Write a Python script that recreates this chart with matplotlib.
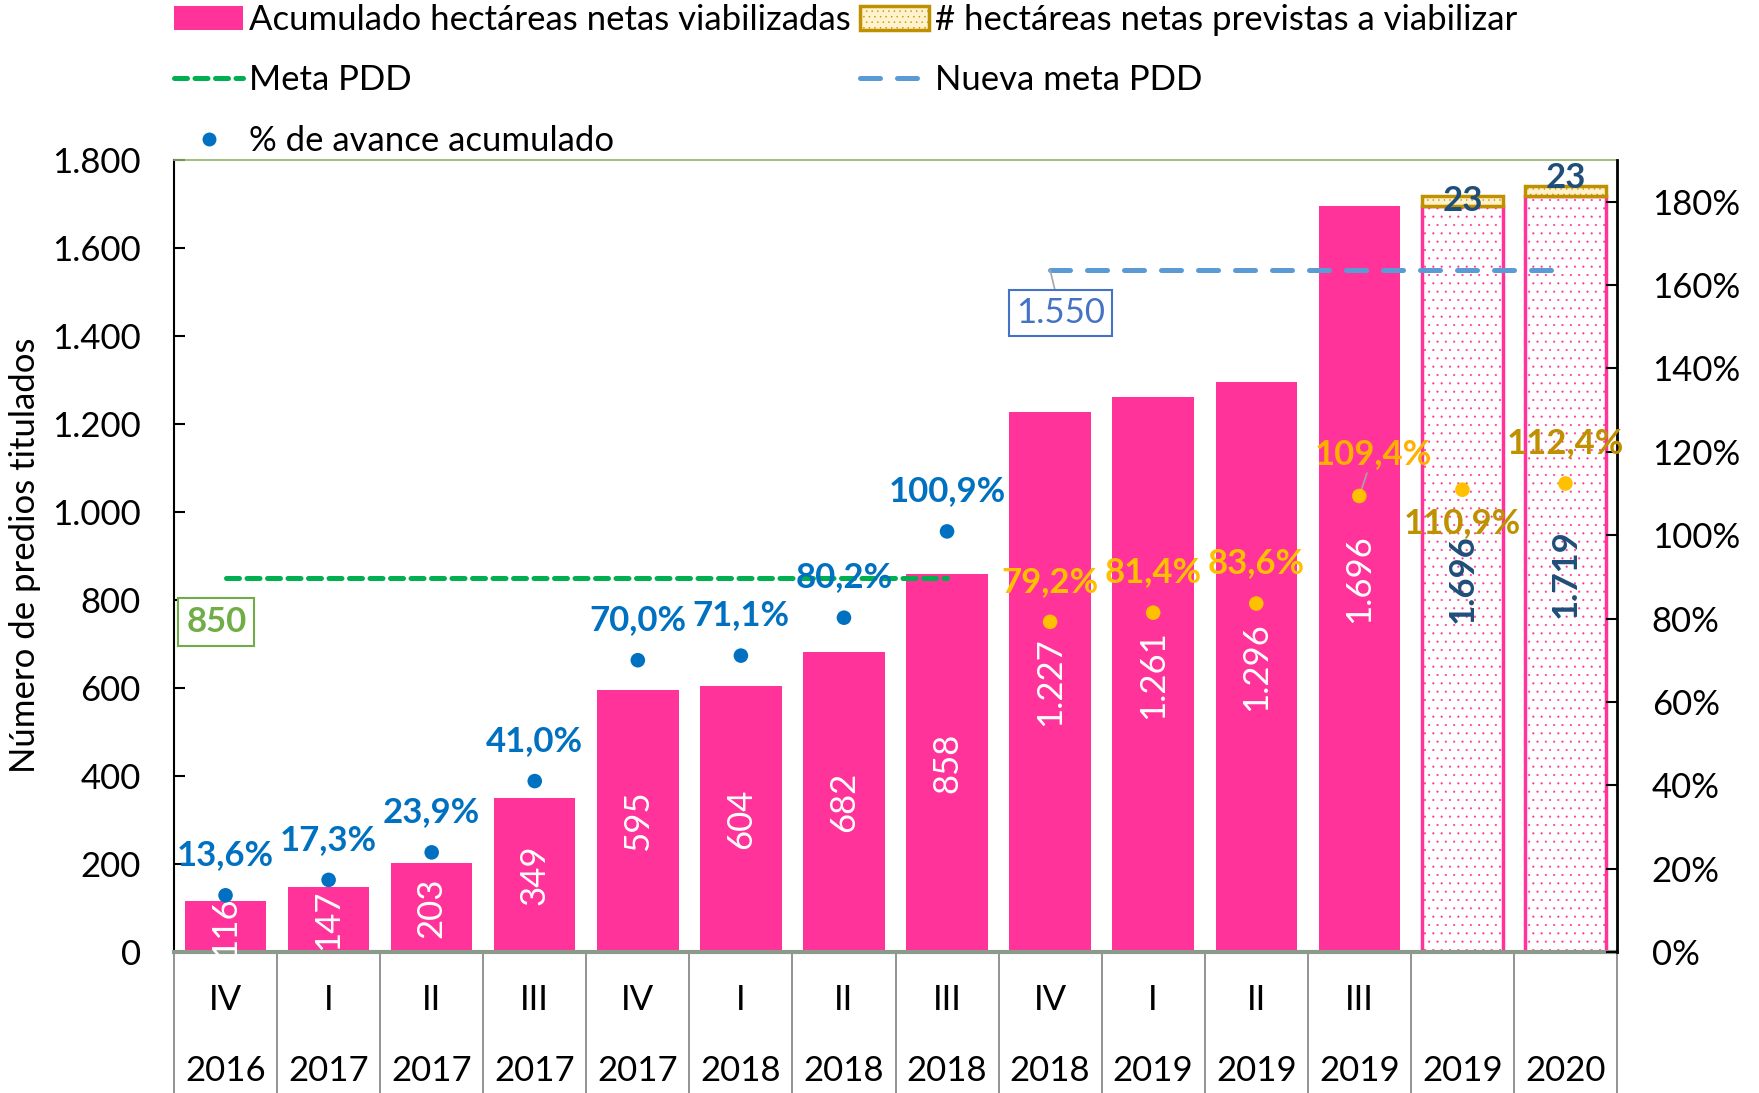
import matplotlib
matplotlib.use('Agg')
import numpy as np
import matplotlib.pyplot as plt
import matplotlib.transforms as mtrans
from matplotlib.patches import Patch
from matplotlib.lines import Line2D

plt.rcParams['font.family'] = ['Lato', 'DejaVu Sans']
plt.rcParams['hatch.linewidth'] = 0.3

# --- datos ---
trimestres = ['IV', 'I', 'II', 'III', 'IV', 'I', 'II', 'III', 'IV', 'I', 'II', 'III', '', '']
anios = ['2016', '2017', '2017', '2017', '2017', '2018', '2018', '2018', '2018',
         '2019', '2019', '2019', '2019', '2020']
acumulado = [116, 147, 203, 349, 595, 604, 682, 858, 1227, 1261, 1296, 1696, 1696, 1719]
previstas = [0, 0, 0, 0, 0, 0, 0, 0, 0, 0, 0, 0, 23, 23]
avance = [13.6, 17.3, 23.9, 41.0, 70.0, 71.1, 80.2, 100.9, 79.2, 81.4, 83.6, 109.4, 110.9, 112.4]
proyectado = [False] * 12 + [True] * 2
meta_pdd = 850
meta_periodos = (0, 7)
nueva_meta = 1550
nueva_meta_periodos = (8, 13)

ROSA = '#FF3399'
AZUL = '#0070C0'
AMAR = '#FFC000'
ORO = '#BF9000'
AZUL_OSC = '#1F4E79'
FS = 25

def miles(v):
    return f'{v:,}'.replace(',', '.')

fig = plt.figure(figsize=(17.59, 10.93), dpi=100)
fig.patch.set_facecolor('white')
ax = fig.add_axes([174/1759, 1 - 952/1093, 1443/1759, 792/1093])
x = np.arange(len(acumulado))

# barras acumuladas
bars = ax.bar(x, acumulado, width=0.79, color=[('white' if p else ROSA) for p in proyectado],
              edgecolor=ROSA, linewidth=0, zorder=2)
for b, p in zip(bars, proyectado):
    if p:
        b.set_hatch('..')
        b.set_linewidth(2.5)

# hectareas previstas (apiladas)
idx = [i for i, v in enumerate(previstas) if v > 0]
ax.bar([x[i] for i in idx], [previstas[i] for i in idx], bottom=[acumulado[i] for i in idx],
       width=0.79, color='#FFF2CC', edgecolor=ORO, hatch='...', linewidth=2.5, zorder=2)

# etiquetas de valores
for i, v in enumerate(acumulado):
    if proyectado[i]:
        ax.text(x[i], v / 2, miles(v), rotation=90, ha='center', va='center',
                fontsize=FS, color=AZUL_OSC, fontweight='bold', zorder=5)
    else:
        ax.text(x[i], v / 2, miles(v), rotation=90, ha='center', va='center',
                fontsize=FS, color='white', zorder=5)
for i in idx:
    dy = 0 if i == 12 else 28
    ax.text(x[i], acumulado[i] + previstas[i] / 2 + dy, str(previstas[i]), ha='center', va='center',
            fontsize=FS, color=AZUL_OSC, fontweight='bold', zorder=6)

# metas
ax.plot(meta_periodos, [meta_pdd, meta_pdd], color='#00B050', lw=3.6, dashes=(2.6, 1.5),
        dash_capstyle='round', zorder=4)
ax.plot(nueva_meta_periodos, [nueva_meta, nueva_meta], color='#5B9BD5', lw=3.6, dashes=(4, 3.4),
        dash_capstyle='round', zorder=4)
ax.text(-0.09, 750, miles(meta_pdd), ha='center', va='center', fontsize=FS, color='#70AD47',
        fontweight='bold', zorder=6,
        bbox=dict(boxstyle='square,pad=0.22', fc='white', ec='#70AD47', lw=1.5))
ax.annotate(miles(nueva_meta), xy=(8, nueva_meta), xytext=(8.1, 1453), ha='center', va='center',
            fontsize=FS, color='#4472C4', zorder=6,
            bbox=dict(boxstyle='square,pad=0.2', fc='white', ec='#4472C4', lw=1.5),
            arrowprops=dict(arrowstyle='-', color='#A6A6A6', lw=1.2, shrinkA=0, shrinkB=0))

ax.set_xlim(-0.5, 13.5)
ax.set_ylim(0, 1800)
ax.set_yticks(range(0, 1801, 200))
ax.set_yticklabels([miles(v) for v in range(0, 1801, 200)])
ax.tick_params(axis='y', direction='in', length=8, width=1.5, labelsize=FS, pad=24)
ax.set_xticks([])
ax.spines['left'].set_linewidth(1.5)
ax.spines['right'].set_visible(False)
ax.spines['top'].set_color('#8DB368')
ax.spines['top'].set_linewidth(1.2)
ax.spines['bottom'].set_color('#8C9A8C')
ax.spines['bottom'].set_linewidth(3)

# eje secundario: % de avance
ax2 = ax.twinx()
ax2.set_ylim(0, 190)
ax2.set_yticks(range(0, 181, 20))
ax2.set_yticklabels([f'{v}%' for v in range(0, 181, 20)])
ax2.tick_params(axis='y', direction='in', length=8, width=1.5, labelsize=FS, pad=25)
ax2.spines['right'].set_linewidth(2)
for s in ['top', 'bottom', 'left']:
    ax2.spines[s].set_visible(False)

col_pt = [AZUL if i < 8 else AMAR for i in range(len(avance))]
ax2.scatter(x, avance, s=110, c=col_pt, zorder=5, linewidths=0)
for i, v in enumerate(avance):
    if i < 8:
        c = AZUL
    elif i < 11:
        c = AMAR
    elif i == 11:
        c = '#FFB000'
    else:
        c = ORO
    txt = f'{v:.1f}%'.replace('.', ',')
    if i == 11:
        ax2.annotate(txt, xy=(x[i], v), xytext=(10, 30), textcoords='offset points',
                     ha='center', va='center', fontsize=FS, fontweight='bold', color=c,
                     arrowprops=dict(arrowstyle='-', color='#A6A6A6', lw=1.2, shrinkA=0, shrinkB=4))
    else:
        off = -24 if i == 12 else 29
        ax2.annotate(txt, xy=(x[i], v), xytext=(0, off), textcoords='offset points',
                     ha='center', va='center', fontsize=FS, fontweight='bold', color=c)

# tabla de categorias bajo el eje
trans = mtrans.blended_transform_factory(ax.transData, ax.transAxes)
for i in range(len(acumulado)):
    ax.text(x[i], -0.061, trimestres[i], transform=trans, ha='center', va='center', fontsize=FS)
    ax.text(x[i], -0.150, anios[i], transform=trans, ha='center', va='center', fontsize=FS)
for b in np.arange(-0.5, len(acumulado), 1.0):
    ax.plot([b, b], [0, -0.2], transform=trans, color='#808080', lw=1.2, clip_on=False)

fig.text(25/1759, 1 - 555/1093, 'Número de predios titulados', rotation=90,
         ha='center', va='center', fontsize=FS)

# leyenda
h1 = [Patch(facecolor=ROSA, edgecolor='none'),
      Line2D([], [], color='#00B050', lw=3.6, dashes=(2.6, 1.5), dash_capstyle='round'),
      Line2D([], [], ls='none', marker='o', color=AZUL, ms=9)]
l1 = ['Acumulado hectáreas netas viabilizadas', 'Meta PDD', '% de avance acumulado']
h2 = [Patch(facecolor='#FFF2CC', edgecolor=ORO, hatch='...', lw=2.5),
      Line2D([], [], color='#5B9BD5', lw=3.6, dashes=(4, 3.4), dash_capstyle='round')]
l2 = ['# hectáreas netas previstas a viabilizar', 'Nueva meta PDD']
kw = dict(loc='upper left', frameon=False, fontsize=FS, borderpad=0, borderaxespad=0,
          handlelength=2.0, handletextpad=0.17, labelspacing=0.82)
fig.legend(h1, l1, bbox_to_anchor=(174/1759, 1 - 4/1093), **kw)
fig.legend(h2, l2, bbox_to_anchor=(860/1759, 1 - 4/1093), **kw)

fig.savefig('out.png', dpi=100, facecolor='white')
